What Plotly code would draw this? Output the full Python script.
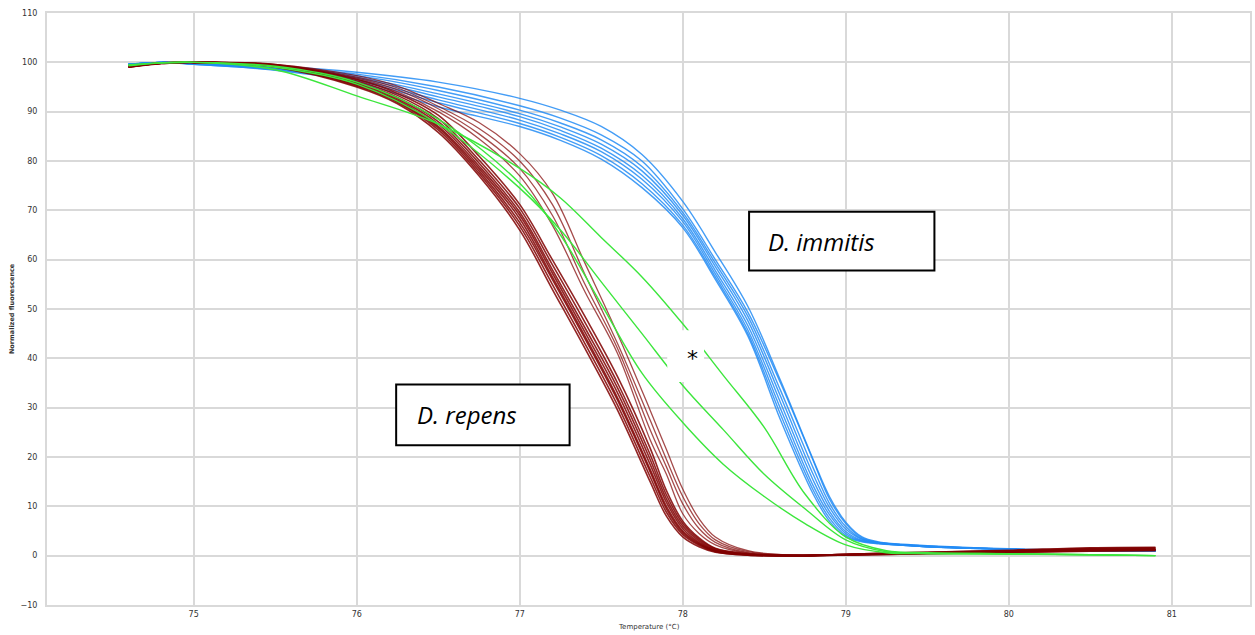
import plotly.graph_objects as go

# Melting-curve temperature grids (°C), one per sample group
T_REPENS = [74.6, 74.8, 75.0, 75.5, 76.0, 76.25, 76.5, 76.75, 77.0, 77.2, 77.4, 77.6, 77.8,
            77.9, 78.0, 78.1, 78.2, 78.4, 78.7, 79.0, 79.5, 80.0, 80.5, 80.9]
T_IMMITIS = [74.6, 74.8, 75.0, 75.5, 76.0, 76.5, 77.0, 77.25, 77.5, 77.75, 78.0, 78.2, 78.4,
             78.6, 78.8, 78.9, 79.0, 79.1, 79.2, 79.35, 79.5, 80.0, 80.5, 80.9]
T_MIXED = [74.6, 74.8, 75.0, 75.5, 76.0, 76.5, 77.0, 77.25, 77.5, 77.75, 78.0, 78.25,
           78.5, 78.75, 79.0, 79.25, 79.5, 80.0, 80.5, 80.9]

# D. repens - main cluster of replicates (normalized fluorescence)
repens_1 = [99.0, 99.7, 100, 99.0, 95.0, 91.6, 85.8, 77.0, 66.0, 54.0, 42.0, 29.5, 15.0, 8.0, 3.8, 1.8, 0.7, 0.1, 0.0, 0.1, 0.4, 0.6, 0.9, 1.0]
repens_2 = [99.1, 99.8, 100, 99.1, 95.2, 91.9, 86.3, 77.5, 66.8, 55.0, 43.0, 30.5, 16.0, 8.8, 4.3, 2.1, 0.8, 0.1, 0.0, 0.1, 0.4, 0.7, 1.0, 1.1]
repens_3 = [99.2, 99.8, 100, 99.2, 95.4, 92.1, 86.7, 78.0, 67.5, 56.0, 44.0, 31.5, 17.0, 9.5, 4.7, 2.3, 0.9, 0.2, 0.0, 0.2, 0.5, 0.8, 1.1, 1.2]
repens_4 = [99.3, 99.8, 100, 99.2, 95.5, 92.3, 87.0, 78.5, 68.3, 56.5, 44.5, 32.0, 17.5, 10.0, 5.0, 2.5, 1.0, 0.2, 0.0, 0.2, 0.5, 0.8, 1.2, 1.3]
repens_5 = [99.2, 99.9, 100, 99.3, 95.7, 92.6, 87.5, 79.0, 69.0, 57.3, 45.3, 33.0, 18.5, 10.8, 5.5, 2.7, 1.1, 0.2, 0.0, 0.2, 0.6, 0.9, 1.3, 1.4]
repens_6 = [99.1, 99.8, 100, 99.3, 95.9, 92.9, 88.0, 79.6, 69.6, 58.0, 46.2, 34.0, 19.5, 11.5, 6.0, 3.0, 1.2, 0.3, 0.0, 0.3, 0.6, 1.0, 1.4, 1.5]
repens_7 = [99.0, 99.8, 100, 99.4, 96.2, 93.3, 88.6, 80.2, 70.4, 59.0, 47.3, 35.0, 20.5, 12.3, 6.5, 3.3, 1.4, 0.3, 0.0, 0.3, 0.7, 1.0, 1.5, 1.6]
repens_8 = [99.0, 99.9, 100, 99.5, 96.5, 93.7, 89.3, 81.0, 71.2, 60.0, 48.5, 36.3, 21.8, 13.2, 7.0, 3.6, 1.5, 0.4, 0.0, 0.3, 0.7, 1.1, 1.6, 1.7]

# D. repens - later-melting replicates
repens_9 = [99.1, 99.8, 100, 99.5, 96.6, 94.0, 90.0, 84.5, 77.0, 67.0, 53.5, 41.0, 23.5, 16.5, 8.5, 4.5, 2.2, 0.5, 0.0, 0.2, 0.5, 0.8, 1.1, 1.2]
repens_10 = [99.1, 99.8, 100, 99.5, 96.8, 94.4, 90.6, 85.5, 78.5, 69.0, 55.0, 42.0, 25.5, 18.0, 10.5, 5.5, 2.7, 0.6, 0.0, 0.2, 0.5, 0.8, 1.1, 1.2]
repens_11 = [99.2, 99.8, 100, 99.6, 97.0, 94.8, 91.1, 86.6, 80.0, 71.2, 57.0, 43.0, 27.5, 19.5, 12.0, 6.5, 3.2, 0.8, 0.1, 0.2, 0.5, 0.8, 1.1, 1.2]
repens_12 = [99.2, 99.8, 100, 99.6, 97.3, 95.2, 91.7, 87.8, 81.5, 73.5, 59.3, 45.0, 29.5, 21.5, 13.5, 7.5, 3.8, 1.0, 0.1, 0.2, 0.5, 0.8, 1.1, 1.2]

# D. immitis replicates
immitis_1 = [99.6, 100, 99.8, 99.2, 98.0, 96.0, 92.7, 90.3, 87.0, 81.3, 71.8, 61.5, 50.5, 35.5, 19.5, 12.0, 6.8, 3.8, 2.8, 2.3, 2.0, 1.4, 1.1, 0.9]
immitis_2 = [99.6, 100, 99.8, 99.0, 97.6, 95.0, 91.2, 88.7, 85.3, 80.0, 70.3, 60.0, 49.3, 35.0, 19.3, 11.5, 6.5, 3.6, 2.7, 2.2, 1.9, 1.3, 1.0, 0.9]
immitis_3 = [99.6, 100, 99.7, 98.9, 97.3, 94.3, 90.3, 87.7, 84.3, 78.9, 69.6, 59.3, 48.5, 33.5, 17.8, 10.6, 5.9, 3.4, 2.7, 2.2, 1.9, 1.3, 1.0, 0.9]
immitis_4 = [99.6, 100, 99.7, 98.8, 97.0, 93.6, 89.6, 86.9, 83.4, 78.0, 69.0, 58.6, 47.6, 32.3, 16.5, 9.8, 5.4, 3.3, 2.6, 2.2, 1.9, 1.3, 1.0, 0.9]
immitis_5 = [99.6, 100, 99.7, 98.7, 96.8, 93.0, 89.0, 86.2, 82.6, 77.1, 68.3, 57.8, 46.6, 31.0, 15.3, 9.0, 4.9, 3.1, 2.6, 2.2, 1.8, 1.3, 1.0, 0.9]
immitis_6 = [99.6, 100, 99.7, 98.6, 96.5, 92.4, 88.3, 85.5, 81.9, 76.3, 67.7, 57.1, 45.7, 29.8, 14.2, 8.3, 4.5, 3.0, 2.5, 2.1, 1.8, 1.3, 1.0, 0.9]
immitis_7 = [99.6, 100, 99.6, 98.5, 96.3, 91.8, 87.6, 84.8, 81.1, 75.4, 67.0, 56.5, 45.0, 28.6, 13.3, 7.6, 4.1, 2.9, 2.5, 2.1, 1.8, 1.3, 1.0, 0.9]
immitis_8 = [99.6, 100, 99.6, 98.4, 96.0, 91.0, 87.0, 84.2, 80.4, 74.6, 66.5, 56.0, 44.5, 27.5, 12.5, 7.0, 3.8, 2.8, 2.4, 2.1, 1.8, 1.3, 1.0, 0.9]

# Mixed / atypical samples (*)
mixed_1 = [99.5, 99.9, 100, 98.5, 93.2, 87.5, 78.5, 72.5, 64.5, 56.5, 47.0, 36.5, 26.0, 12.5, 3.8, 1.0, 0.6, 0.4, 0.2, 0.0]
mixed_2 = [99.4, 99.9, 100, 99.0, 95.6, 87.5, 74.5, 66.0, 55.5, 45.0, 34.5, 25.5, 16.5, 9.5, 3.2, 0.8, 0.5, 0.4, 0.2, 0.0]
mixed_3 = [99.3, 99.9, 100, 99.2, 96.0, 88.5, 75.5, 65.0, 51.0, 37.0, 27.0, 18.5, 12.0, 6.5, 2.2, 0.6, 0.4, 0.3, 0.2, 0.0]

X_TICKS = [75, 76, 77, 78, 79, 80, 81]
Y_TICKS = [-10, 0, 10, 20, 30, 40, 50, 60, 70, 80, 90, 100, 110]

BLUE = "rgb(35,140,245)"
MAROON = "rgb(128,0,0)"
GREEN = "rgb(60,230,60)"
GRID = "#d9d9d9"

fig = go.Figure()

for ys in [immitis_1, immitis_2, immitis_3, immitis_4,
           immitis_5, immitis_6, immitis_7, immitis_8]:
    fig.add_trace(go.Scatter(x=T_IMMITIS, y=ys, mode="lines",
                             line=dict(color=BLUE, width=1.4, shape="spline", smoothing=1.0),
                             opacity=0.85, hoverinfo="skip"))

for ys in [repens_9, repens_10, repens_11, repens_12]:
    fig.add_trace(go.Scatter(x=T_REPENS, y=ys, mode="lines",
                             line=dict(color=MAROON, width=1.3, shape="spline", smoothing=1.0),
                             opacity=0.7, hoverinfo="skip"))

for ys in [repens_1, repens_2, repens_3, repens_4,
           repens_5, repens_6, repens_7, repens_8]:
    fig.add_trace(go.Scatter(x=T_REPENS, y=ys, mode="lines",
                             line=dict(color=MAROON, width=1.6, shape="spline", smoothing=1.0),
                             opacity=0.85, hoverinfo="skip"))

for ys in [mixed_1, mixed_2, mixed_3]:
    fig.add_trace(go.Scatter(x=T_MIXED, y=ys, mode="lines",
                             line=dict(color=GREEN, width=1.4, shape="spline", smoothing=1.0),
                             hoverinfo="skip"))

label_font = dict(family="'Open Sans', Lato, sans-serif", size=24, color="black")

fig.update_layout(
    width=1255, height=635,
    margin=dict(l=47, r=3, t=13, b=30),
    paper_bgcolor="white", plot_bgcolor="white",
    showlegend=False,
    xaxis=dict(range=[74.1, 81.48], tickvals=X_TICKS, showgrid=True, gridcolor=GRID,
               gridwidth=2, zeroline=False, showline=True, linecolor=GRID, linewidth=2,
               mirror=True, ticks="", tickfont=dict(family="DejaVu Sans", size=8, color="#333")),
    yaxis=dict(range=[-10, 110], tickvals=Y_TICKS, showgrid=True, gridcolor=GRID,
               gridwidth=2, zeroline=False, showline=True, linecolor=GRID, linewidth=2,
               mirror=True, ticks="", ticklabelstandoff=6,
               tickfont=dict(family="DejaVu Sans", size=8, color="#333")),
    shapes=[
        dict(type="rect", xref="x", yref="y", x0=78.407, x1=79.544, y0=57.8, y1=69.7,
             line=dict(color="black", width=2), fillcolor="white", layer="above"),
        dict(type="rect", xref="x", yref="y", x0=76.242, x1=77.306, y0=22.4, y1=34.7,
             line=dict(color="black", width=2), fillcolor="white", layer="above"),
        dict(type="rect", xref="x", yref="y", x0=77.905, x1=78.131, y0=35.2, y1=45.7,
             line=dict(width=0), fillcolor="white", layer="above"),
    ],
    annotations=[
        dict(x=78.51, y=63.6, xref="x", yref="y", text="<i>D. immitis</i>", showarrow=False,
             xanchor="left", yanchor="middle", font=label_font),
        dict(x=76.36, y=28.6, xref="x", yref="y", text="<i>D. repens</i>", showarrow=False,
             xanchor="left", yanchor="middle", font=label_font),
        dict(x=78.06, y=40.0, xref="x", yref="y", text="*", showarrow=False,
             xanchor="center", yanchor="middle",
             font=dict(family="DejaVu Sans", size=22, color="black")),
        dict(x=0.5, y=-0.037, xref="paper", yref="paper", text="Temperature (°C)",
             showarrow=False, xanchor="center", yanchor="middle",
             font=dict(family="DejaVu Sans", size=7, color="#333")),
        dict(x=-0.029, y=0.5, xref="paper", yref="paper", text="<b>Normalized fluorescence</b>",
             showarrow=False, textangle=-90, xanchor="center", yanchor="middle",
             font=dict(family="DejaVu Sans", size=6.5, color="#333")),
    ],
)

fig.write_html("out.html")
